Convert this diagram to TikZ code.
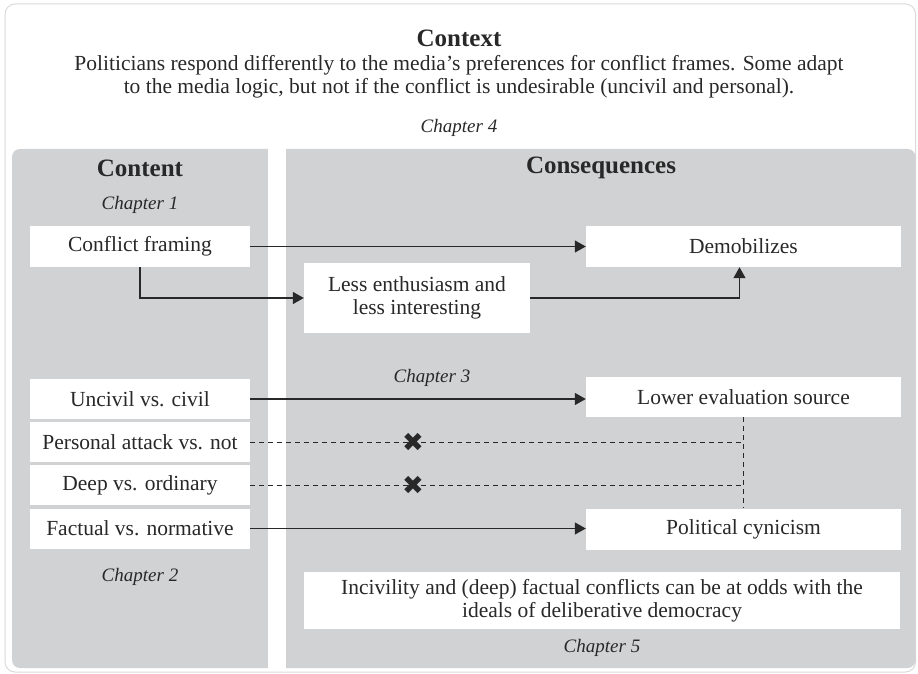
\documentclass[tikz,border=0pt]{standalone}
\usepackage{fontspec}
\setmainfont{Liberation Serif}
\newfontfamily\symfont{DejaVu Sans}
\usetikzlibrary{arrows.meta,positioning}

\definecolor{panelgray}{RGB}{209,210,212}
\definecolor{rimgray}{RGB}{218,218,218}
\definecolor{ink}{RGB}{40,40,40}

\begin{document}
\begin{tikzpicture}[x=1pt, y=-1pt, text=ink,
    font=\fontsize{21.5}{23}\selectfont,
    box/.style={fill=white, inner sep=0pt, align=center,
                minimum width=220pt, minimum height=41pt},
    head/.style={font=\fontsize{25}{26}\selectfont\bfseries},
    chap/.style={font=\fontsize{19}{22}\selectfont\itshape},
    link/.style={draw=ink, line width=1.4pt, -{Triangle[length=11pt,width=12pt]}},
    nolink/.style={draw=ink, line width=1pt, dash pattern=on 5pt off 4pt},
    cross/.style={font=\symfont\fontsize{26}{26}\selectfont, inner sep=0pt}]
  \useasboundingbox (0,0) rectangle (918,674);

  % frame and the two grey columns
  \draw[rimgray, line width=1pt, rounded corners=10pt] (5,4) rectangle (915.5,672);
  \fill[panelgray, rounded corners=8pt] (12,149) rectangle (915.5,668);
  \fill[white] (268,148) rectangle (286,669);

  \node[head] (context) at (459,38) {Context};
  \node[align=center] (summary) at (459,77)
    {Politicians respond differently to the media's preferences for conflict frames. Some adapt\\
     to the media logic, but not if the conflict is undesirable (uncivil and personal).};
  \node[chap] (ch4) at (459,128) {Chapter 4};

  \node[head] (content) at (140,168) {Content};
  \node[head] (conseq)  at (601,168) {Consequences};
  \node[chap] (ch1) at (140,205) {Chapter 1};

  % content side
  \node[box] (framing)  at (140,246.5) {Conflict framing};
  \node[box, minimum height=40pt] (uncivil)  at (140,399)   {Uncivil vs. civil};
  \node[box, minimum height=40pt] (personal) at (140,442)   {Personal attack vs. not};
  \node[box, minimum height=40pt] (deep)     at (140,485)   {Deep vs. ordinary};
  \node[box, minimum height=40pt] (factual)  at (140,528.5) {Factual vs. normative};
  \node[chap] (ch2) at (140,577) {Chapter 2};

  % consequences side
  \node[box, minimum width=226pt, minimum height=70pt] (enthus) at (417,298)
    {Less enthusiasm and\\less interesting};
  \node[box, minimum width=315pt] (demob) at (743.5,246.5) {Demobilizes};
  \node[chap] (ch3) at (432,378) {Chapter 3};
  \node[box, minimum width=315pt, minimum height=40pt] (lower) at (743.5,397) {Lower evaluation source};
  \node[box, minimum width=315pt] (cynic) at (743.5,529) {Political cynicism};
  \node[box, minimum width=596pt, minimum height=57pt] (ideals) at (602,600.5)
    {Incivility and (deep) factual conflicts can be at odds with the\\
     ideals of deliberative democracy};
  \node[chap] (ch5) at (602,648) {Chapter 5};

  % effects
  \draw[link] (framing.east) -- (demob.west);
  \draw[link] (framing.south) |- (enthus.west);
  \draw[link] (enthus.east) -| ([xshift=-4pt]demob.south);
  \draw[link] (uncivil.east) -- (uncivil.east -| lower.west);
  \draw[link] (factual.east) -- (factual.east -| cynic.west);

  % no effects
  \draw[nolink] (lower.south) -- (cynic.north);
  \draw[nolink] (personal.east) -- (personal.east -| lower.south);
  \draw[nolink] (deep.east) -- (deep.east -| lower.south);
  \node[cross] (nox1) at (413,442) {✖};
  \node[cross] (nox2) at (413,485) {✖};
\end{tikzpicture}
\end{document}
